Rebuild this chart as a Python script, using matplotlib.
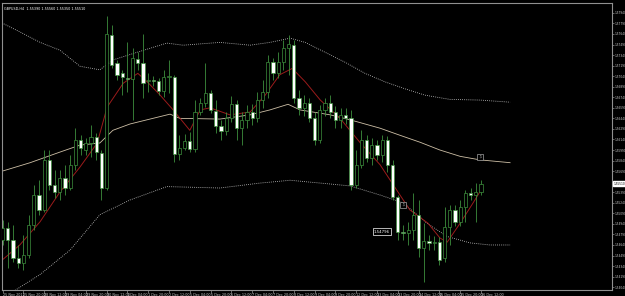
import numpy as np
import matplotlib.pyplot as plt
import matplotlib.transforms as mtransforms

# GBPUSD H4 bars, 25 Nov 2011 04:00 .. 16 Dec 2011 12:00
opens = [1.5471, 1.5488, 1.5471, 1.5446, 1.5439, 1.5450, 1.5493, 1.5535, 1.5514, 1.5585,
         1.5549, 1.5539, 1.5559, 1.5545, 1.5578, 1.5613, 1.5599, 1.5609, 1.5618, 1.5595,
         1.5545, 1.5762, 1.5723, 1.5708, 1.5701, 1.5700, 1.5728, 1.5723, 1.5697, 1.5698,
         1.5697, 1.5683, 1.5703, 1.5703, 1.5593, 1.5602, 1.5612, 1.5600, 1.5653, 1.5666,
         1.5680, 1.5654, 1.5633, 1.5626, 1.5644, 1.5664, 1.5630, 1.5642, 1.5653, 1.5644,
         1.5670, 1.5681, 1.5724, 1.5708, 1.5724, 1.5744, 1.5748, 1.5673, 1.5659, 1.5666,
         1.5644, 1.5613, 1.5656, 1.5666, 1.5653, 1.5642, 1.5649, 1.5644, 1.5549, 1.5578,
         1.5613, 1.5588, 1.5606, 1.5592, 1.5613, 1.5578, 1.5532, 1.5483, 1.5481, 1.5485,
         1.5507, 1.5460, 1.5470, 1.5467, 1.5468, 1.5446, 1.5490, 1.5514, 1.5497, 1.5518,
         1.5538, 1.5535, 1.5539]
highs = [1.5500, 1.5497, 1.5493, 1.5464, 1.5478, 1.5507, 1.5549, 1.5556, 1.5599, 1.5599,
         1.5571, 1.5571, 1.5578, 1.5592, 1.5630, 1.5620, 1.5616, 1.5635, 1.5623, 1.5599,
         1.5790, 1.5777, 1.5727, 1.5713, 1.5752, 1.5744, 1.5738, 1.5764, 1.5708, 1.5704,
         1.5701, 1.5713, 1.5727, 1.5706, 1.5620, 1.5622, 1.5625, 1.5670, 1.5673, 1.5723,
         1.5684, 1.5670, 1.5642, 1.5653, 1.5676, 1.5670, 1.5653, 1.5663, 1.5664, 1.5681,
         1.5698, 1.5734, 1.5730, 1.5738, 1.5755, 1.5762, 1.5755, 1.5684, 1.5677, 1.5673,
         1.5653, 1.5663, 1.5673, 1.5677, 1.5661, 1.5659, 1.5659, 1.5656, 1.5599, 1.5627,
         1.5620, 1.5616, 1.5613, 1.5620, 1.5619, 1.5585, 1.5535, 1.5493, 1.5497, 1.5538,
         1.5528, 1.5495, 1.5478, 1.5477, 1.5476, 1.5518, 1.5521, 1.5521, 1.5528, 1.5542,
         1.5545, 1.5552, 1.5556]
lows = [1.5464, 1.5431, 1.5440, 1.5431, 1.5429, 1.5446, 1.5485, 1.5507, 1.5511, 1.5542,
        1.5531, 1.5528, 1.5535, 1.5542, 1.5571, 1.5592, 1.5592, 1.5589, 1.5585, 1.5528,
        1.5542, 1.5715, 1.5698, 1.5677, 1.5681, 1.5642, 1.5713, 1.5673, 1.5681, 1.5690,
        1.5677, 1.5674, 1.5680, 1.5582, 1.5585, 1.5599, 1.5596, 1.5596, 1.5649, 1.5660,
        1.5652, 1.5623, 1.5613, 1.5620, 1.5639, 1.5613, 1.5606, 1.5630, 1.5635, 1.5639,
        1.5659, 1.5673, 1.5698, 1.5701, 1.5713, 1.5706, 1.5666, 1.5649, 1.5647, 1.5639,
        1.5606, 1.5609, 1.5647, 1.5644, 1.5630, 1.5630, 1.5636, 1.5542, 1.5545, 1.5573,
        1.5582, 1.5578, 1.5585, 1.5582, 1.5568, 1.5528, 1.5471, 1.5471, 1.5464, 1.5471,
        1.5447, 1.5412, 1.5457, 1.5457, 1.5436, 1.5440, 1.5464, 1.5491, 1.5491, 1.5497,
        1.5528, 1.5497, 1.5535]
closes = [1.5488, 1.5471, 1.5446, 1.5439, 1.5450, 1.5493, 1.5535, 1.5514, 1.5585, 1.5549,
          1.5539, 1.5559, 1.5545, 1.5578, 1.5613, 1.5602, 1.5609, 1.5618, 1.5596, 1.5545,
          1.5764, 1.5720, 1.5706, 1.5703, 1.5700, 1.5730, 1.5723, 1.5694, 1.5698, 1.5697,
          1.5683, 1.5703, 1.5704, 1.5593, 1.5602, 1.5612, 1.5600, 1.5653, 1.5666, 1.5680,
          1.5656, 1.5633, 1.5626, 1.5644, 1.5664, 1.5630, 1.5642, 1.5653, 1.5644, 1.5670,
          1.5681, 1.5724, 1.5708, 1.5724, 1.5744, 1.5750, 1.5673, 1.5659, 1.5666, 1.5644,
          1.5613, 1.5656, 1.5666, 1.5653, 1.5642, 1.5649, 1.5644, 1.5549, 1.5578, 1.5613,
          1.5588, 1.5606, 1.5592, 1.5613, 1.5578, 1.5532, 1.5483, 1.5481, 1.5485, 1.5507,
          1.5460, 1.5470, 1.5467, 1.5468, 1.5443, 1.5490, 1.5514, 1.5497, 1.5518, 1.5538,
          1.5535, 1.5539, 1.5551]

# indicator lines, read as (bar, price)
upper_bar = [-0.5, 3.3, 7.2, 11.0, 14.9, 18.7, 21.2, 25.9, 31.6, 34.7, 41.8, 47.6, 51.4,
             55.3, 58.2, 62.0, 65.8, 69.7, 73.5, 77.4, 81.2, 86.0, 91.8, 97.6]
upper_val = [1.5781, 1.5767, 1.5752, 1.5741, 1.5718, 1.5713, 1.5727, 1.5738, 1.5751, 1.5748,
             1.5752, 1.5748, 1.5752, 1.5758, 1.5752, 1.5738, 1.5724, 1.5708, 1.5696, 1.5686,
             1.5677, 1.5671, 1.5670, 1.5667]
mid_bar = [-0.5, 5.3, 11.0, 14.9, 18.7, 21.2, 24.5, 27.8, 32.2, 34.1, 41.8, 47.6, 51.4,
           54.9, 57.2, 63.0, 66.8, 72.6, 76.4, 80.3, 84.1, 88.0, 91.8, 97.6]
mid_val = [1.5568, 1.5581, 1.5596, 1.5606, 1.5609, 1.5627, 1.5636, 1.5642, 1.5650, 1.5644,
           1.5643, 1.5649, 1.5656, 1.5664, 1.5656, 1.5649, 1.5642, 1.5630, 1.5620, 1.5610,
           1.5599, 1.5590, 1.5585, 1.5581]
lower_bar = [-0.5, 7.2, 13.0, 18.7, 24.5, 31.6, 41.8, 49.5, 55.3, 61.1, 66.8, 72.6, 77.0,
             81.6, 85.5, 89.9, 93.7, 97.6]
lower_val = [1.5386, 1.5422, 1.5457, 1.5507, 1.5528, 1.5547, 1.5545, 1.5552, 1.5556, 1.5552,
             1.5548, 1.5535, 1.5524, 1.5495, 1.5476, 1.5467, 1.5464, 1.5464]
ma_bar = [-0.5, 3.3, 7.2, 11.0, 14.9, 18.2, 20.1, 23.2, 26.0, 27.8, 30.3, 32.8, 36.0, 38.0,
          39.9, 43.7, 47.6, 50.5, 53.3, 55.7, 58.2, 61.1, 64.9, 68.7, 72.6, 75.8, 78.3, 81.8,
          84.1, 85.5, 88.0, 90.5, 92.0]
ma_val = [1.5440, 1.5464, 1.5497, 1.5539, 1.5575, 1.5609, 1.5660, 1.5694, 1.5708, 1.5696,
          1.5677, 1.5656, 1.5627, 1.5656, 1.5659, 1.5649, 1.5653, 1.5677, 1.5706, 1.5715,
          1.5696, 1.5670, 1.5644, 1.5610, 1.5578, 1.5542, 1.5514, 1.5495, 1.5474, 1.5468,
          1.5495, 1.5524, 1.5542]

date_pos = list(range(0, 93, 4))
date_labels = ["25 Nov 2011", "25 Nov 20:00", "28 Nov 12:00", "29 Nov 04:00", "29 Nov 20:00",
               "30 Nov 12:00", "1 Dec 04:00", "1 Dec 20:00", "2 Dec 12:00", "5 Dec 04:00",
               "5 Dec 20:00", "6 Dec 12:00", "7 Dec 04:00", "7 Dec 20:00", "8 Dec 12:00",
               "9 Dec 04:00", "9 Dec 20:00", "12 Dec 12:00", "13 Dec 04:00", "13 Dec 20:00",
               "14 Dec 12:00", "15 Dec 04:00", "15 Dec 20:00", "16 Dec 12:00"]
price_ticks = [round(1.5794 - 0.0015 * k, 4) for k in range(27)]

title = "GBPUSD,H4  1.55390 1.55560 1.55350 1.55510"
label_price = 1.5483
label_text = "1.54796"

green = '#3d8f3d'
grey = '#909090'

fig = plt.figure(figsize=(6.25, 2.96), dpi=100, facecolor='black')
ax = fig.add_axes([2 / 625, 6 / 296, 610 / 625, 287 / 296])
ax.set_facecolor('black')

x = np.arange(len(opens))
o = np.array(opens)
c = np.array(closes)
up = c >= o

ax.vlines(x, lows, highs, color=green, lw=0.6, zorder=3)
ax.bar(x[up], (c - o)[up], bottom=o[up], width=0.6, facecolor='black',
       edgecolor=green, lw=0.5, zorder=4)
ax.bar(x[~up], (o - c)[~up], bottom=c[~up], width=0.6, facecolor='white',
       edgecolor=green, lw=0.5, zorder=4)

ax.plot(upper_bar, upper_val, color='#c8c8c8', lw=0.6, ls=(0, (1, 1.5)), zorder=2)
ax.plot(lower_bar, lower_val, color='#c8c8c8', lw=0.6, ls=(0, (1, 1.5)), zorder=2)
ax.plot(mid_bar, mid_val, color='#cdbfa6', lw=0.6, zorder=2)
ax.plot(ma_bar, ma_val, color='#9b1b1b', lw=0.7, zorder=2)

# objects on chart
box = dict(boxstyle='square,pad=0.3', fc='black', ec='#a0a0a0', lw=0.5)
ax.text(77.0, 1.5521, "⇩", fontsize=3, color='#d0d0d0', ha='center', va='center', bbox=box, zorder=6)
ax.text(91.8, 1.5589, "⇩", fontsize=3, color='#d0d0d0', ha='center', va='center', bbox=box, zorder=6)
ax.text(71.4, label_price, label_text, fontsize=2.8, color='white', ha='left', va='center',
        bbox=dict(boxstyle='square,pad=0.3', fc='black', ec='white', lw=0.5), zorder=6)

ax.set_xlim(-0.12, 117.2)
ax.set_ylim(1.5400, 1.5808)

# the scale label hidden under the current price box
ax.yaxis.tick_right()
ax.set_yticks(price_ticks)
ax.set_yticklabels(["" if abs(v - closes[-1]) < 0.0006 else f"{v:.5f}" for v in price_ticks])
ax.tick_params(axis='y', colors=grey, labelcolor='#c8c8c8', labelsize=2.1, length=1.2, width=0.5, pad=0.5)
ax.set_xticks(date_pos)
ax.set_xticklabels(date_labels)
ax.tick_params(axis='x', colors=grey, labelcolor='#c8c8c8', labelsize=2.4, length=2, width=0.5, pad=0.5)
for lab in ax.get_xticklabels():
    lab.set_ha('left')

for s in ax.spines.values():
    s.set_color(grey)
    s.set_linewidth(0.8)

# current price marker on the scale
trans = mtransforms.blended_transform_factory(ax.transAxes, ax.transData)
ax.text(1.003, closes[-1], f"{closes[-1]:.5f}", transform=trans, fontsize=2.1, color='black',
        ha='left', va='center', bbox=dict(boxstyle='square,pad=0.15', fc='white', ec='white'),
        clip_on=False, zorder=7)

fig.text(4 / 625, 1 - 9 / 296, title, fontsize=2.4, color='white', va='center')

fig.savefig('out.png', dpi=100, facecolor='black')
